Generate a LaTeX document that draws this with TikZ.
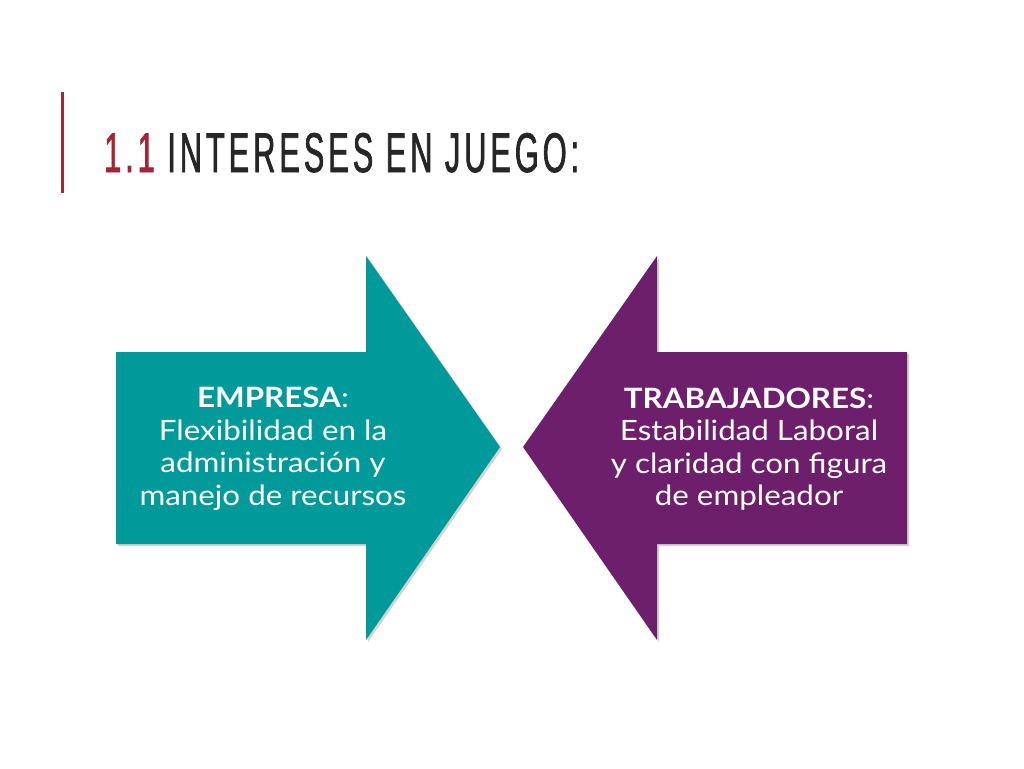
\documentclass[tikz,border=0pt]{standalone}
\usepackage{fontspec}
\setmainfont{Lato}
\newfontfamily\bodyfont[FakeStretch=1.12]{Lato}
\newfontfamily\titlefont[FakeStretch=0.55,LetterSpace=7,FakeBold=1.2]{Liberation Sans}
\usetikzlibrary{shadows}
\definecolor{teal1}{HTML}{009A9A}
\definecolor{purp1}{HTML}{6E1F6B}
\definecolor{red1}{HTML}{A32638}
\definecolor{gray1}{HTML}{262626}
\tikzset{
  arrowshape/.style={draw=none, drop shadow={opacity=0.35, shadow xshift=2pt, shadow yshift=-2pt}},
  bodytext/.style={text=white, align=center, font=\bodyfont\fontsize{28}{32.5}\selectfont, inner sep=0pt}
}
\begin{document}
\begin{tikzpicture}[x=1pt,y=-1pt]
\useasboundingbox[fill=white] (0,0) rectangle (1024,768);
% title bar
\draw[red1, line width=3pt] (62,92) -- (62,193);
\node[anchor=base west, inner sep=0pt, font=\titlefont\fontsize{56}{56}\selectfont, text=gray1] (title) at (104,172)
  {\textcolor{red1}{1.1} INTERESES EN JUEGO:};
% left arrow
\path[arrowshape, fill=teal1] (116,352) -- (366,352) -- (366,256) -- (500,447) -- (366,640) -- (366,544) -- (116,544) -- cycle;
% right arrow
\path[arrowshape, fill=purp1] (907,352) -- (657,352) -- (657,256) -- (523,447) -- (657,640) -- (657,544) -- (907,544) -- cycle;
\node[bodytext] (empresa) at (273,449) {\textbf{EMPRESA}:\\Flexibilidad en la\\administración y\\manejo de recursos};
\node[bodytext] (trab) at (749,449) {\textbf{TRABAJADORES}:\\Estabilidad Laboral\\y claridad con figura\\de empleador};
\end{tikzpicture}
\end{document}
